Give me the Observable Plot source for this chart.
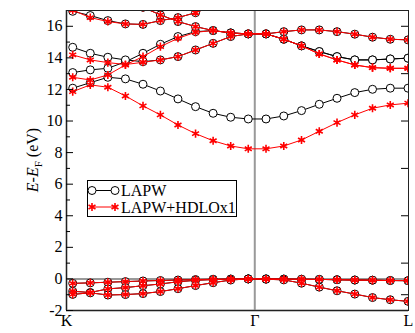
<!DOCTYPE html>
<html><head><meta charset="utf-8">
<script src="https://cdn.jsdelivr.net/npm/d3@7"></script>
<script src="https://cdn.jsdelivr.net/npm/@observablehq/plot@0.6"></script>
<style>
body{margin:0;background:#fff;}
#chart{position:relative;width:415px;height:333px;}
#legend{position:absolute;left:86px;top:179px;}
</style></head><body><div id="chart"></div>
<script>
// k-path positions (K -> Gamma -> L), distance in units of 2pi/a
const kPoints = [0.035,0.134,0.233,0.332,0.431,0.529,0.628,0.727,0.826,0.925,1.024,
                 1.124,1.224,1.324,1.424,1.524,1.624,1.724,1.824,1.924];
const kTickPos = [0, 1.0607, 1.9267];
const kTickLabels = ["K", "Γ", "L"];
const yTickLabels = [-2,0,2,4,6,8,10,12,14,16];
const yMinorTicks = [-1,1,3,5,7,9,11,13,15];
const yRightTicks = [-1,1,4,7,10,13,16];
const seriesNames = ["LAPW", "LAPW+HDLOx1"];

// valence bands (identical in both calculations)
const valence1 = [-0.28,-0.25,-0.21,-0.17,-0.13,-0.10,-0.07,-0.04,-0.02,-0.01,0.00, 0.00,-0.01,-0.02,-0.03,-0.05,-0.07,-0.08,-0.10,-0.11];
const valence2 = [-0.78,-0.86,-0.63,-0.55,-0.43,-0.32,-0.18,-0.09,-0.04,-0.01,0.00, 0.00,-0.01,-0.02,-0.03,-0.05,-0.07,-0.08,-0.10,-0.11];
const valence3 = [-0.98,-0.88,-1.02,-0.99,-0.93,-0.80,-0.62,-0.42,-0.24,-0.07,0.00, -0.02,-0.06,-0.27,-0.52,-0.75,-0.96,-1.18,-1.32,-1.42];

// LAPW conduction bands
const lapw1 = [12.08,12.43,12.77,12.67,12.33,11.90,11.40,10.91,10.49,10.24,10.13, 10.13,10.32,10.66,11.06,11.44,11.80,12.01,12.08,12.08];
const lapw2 = [13.07,13.24,13.34,13.75,14.29,14.86,15.35,15.66,15.73,15.58,15.52, 15.52,15.18,14.76,14.40,14.08,13.87,13.87,13.93,13.98];
const lapw3 = [14.67,14.29,14.04,13.87,13.76,13.87,14.08,14.50,14.92,15.35,15.52, 15.52,15.18,14.76,14.40,14.08,13.87,13.87,13.93,13.98];
const lapw4 = [16.95,16.68,16.36,16.15,16.12,16.36,16.55,16.86,17.30,null,null, null,null,null,null,null,null,null,null,null];
const lapw5 = [null,null,null,null,17.20,16.72,16.30,15.98,15.73,15.58,15.52, 15.52,15.66,15.77,15.77,15.66,15.50,15.31,15.18,15.14];

// LAPW+HDLOx1 conduction bands
const hdlo1 = [11.86,12.29,12.14,11.59,10.96,10.39,9.75,9.20,8.75,8.42,8.24, 8.24,8.42,8.80,9.35,9.90,10.39,10.81,11.02,11.13];
const hdlo2 = [12.77,12.60,12.92,13.55,14.08,14.71,15.24,15.62,15.73,15.58,15.52, 15.52,15.18,14.76,14.25,13.87,13.55,13.38,13.34,13.34];
const hdlo3 = [14.19,13.87,13.70,13.58,13.72,13.87,14.08,14.50,14.92,15.35,15.52, 15.52,15.18,14.76,14.25,13.87,13.55,13.38,13.34,13.34];
const hdlo4 = [17.02,16.55,16.30,16.15,16.12,16.36,16.55,16.86,17.30,null,null, null,null,null,null,null,null,null,null,null];
const hdlo5 = [null,null,null,null,17.20,16.72,16.30,15.98,15.73,15.58,15.52, 15.52,15.66,15.77,15.77,15.66,15.50,15.31,15.18,15.14];

const lapwBands = [valence1, valence2, valence3, lapw1, lapw2, lapw3, lapw4, lapw5];
const hdloBands = [valence1, valence2, valence3, hdlo1, hdlo2, hdlo3, hdlo4, hdlo5];

function toRows(bands, set) {
  const rows = [];
  bands.forEach((b, bi) => b.forEach((e, i) => rows.push({k: kPoints[i], E: e, band: set + bi})));
  return rows;
}
const lapwRows = toRows(lapwBands, "a");
const hdloRows = toRows(hdloBands, "b");

const W = 415, H = 333, mL = 66, mR = 7, mT = 10, mB = 23;
const innerW = W - mL - mR;
const font = "'Liberation Serif', 'Times New Roman', serif";

const svg = Plot.plot({
  width: W, height: H,
  marginLeft: mL, marginRight: mR, marginTop: mT, marginBottom: mB,
  style: {fontFamily: font, fontSize: "16px", background: "#fff", color: "#000"},
  x: {domain: [kTickPos[0], kTickPos[2]]},
  y: {domain: [-2, 17]},
  marks: [
    Plot.ruleY([0], {stroke: "#999", strokeWidth: 2}),
    Plot.ruleX([kTickPos[1]], {stroke: "#999", strokeWidth: 2}),
    Plot.ruleX([kTickPos[0]], {stroke: "#888", strokeWidth: 2}),
    Plot.ruleY([-2], {stroke: "#888", strokeWidth: 2}),
    Plot.line(lapwRows, {x: "k", y: "E", z: "band", stroke: "#000", strokeWidth: 1, clip: true}),
    Plot.dot(lapwRows.filter(d => d.E != null), {x: "k", y: "E", r: 4, stroke: "#000", fill: "#fff", strokeWidth: 1, clip: true}),
    Plot.line(hdloRows, {x: "k", y: "E", z: "band", stroke: "#ff0000", strokeWidth: 1, clip: true}),
    Plot.dot(hdloRows.filter(d => d.E != null), {x: "k", y: "E", r: 3.8, symbol: "asterisk", stroke: "#ff0000", strokeWidth: 1.6, clip: true}),
    Plot.frame({stroke: "#222", strokeWidth: 1}),
    Plot.tickY(yTickLabels, {y: d => d, insetRight: innerW - 7, stroke: "#000"}),
    Plot.tickY(yMinorTicks, {y: d => d, insetRight: innerW - 4, stroke: "#000"}),
    Plot.tickY(yRightTicks, {y: d => d, insetLeft: innerW - 7, stroke: "#000"}),
    Plot.axisY({ticks: yTickLabels, tickSize: 0, tickPadding: 4, label: null, tickFormat: d => String(d), fontSize: 16}),
    Plot.axisX({ticks: kTickPos, tickSize: 0, tickPadding: 4, label: null, tickFormat: d => kTickLabels[kTickPos.indexOf(d)], fontSize: 16})
  ]
});

// y-axis title with italic E and subscript F
const lab = d3.select(svg).append("text")
  .attr("transform", "translate(38,160) rotate(-90)")
  .attr("text-anchor", "middle")
  .attr("font-family", font).attr("font-size", 16).attr("fill", "#000");
lab.append("tspan").attr("font-style", "italic").text("E");
lab.append("tspan").text("-");
lab.append("tspan").attr("font-style", "italic").text("E");
lab.append("tspan").attr("font-size", 11).attr("dy", 4).text("F");
lab.append("tspan").attr("dy", -4).text(" (eV)");

const chart = document.getElementById("chart");
chart.appendChild(svg);

// legend overlay
const leg = d3.select(chart).append("svg").attr("id", "legend").attr("width", 152).attr("height", 39);
leg.append("rect").attr("x", 1.5).attr("y", 1.5).attr("width", 149).attr("height", 36).attr("fill", "#fff").attr("stroke", "#000");
const rowsY = [11.5, 28];
leg.append("line").attr("x1", 6).attr("x2", 29).attr("y1", rowsY[0]).attr("y2", rowsY[0]).attr("stroke", "#000");
[6, 29].forEach(x => leg.append("circle").attr("cx", x).attr("cy", rowsY[0]).attr("r", 4).attr("fill", "#fff").attr("stroke", "#000"));
leg.append("line").attr("x1", 6).attr("x2", 29).attr("y1", rowsY[1]).attr("y2", rowsY[1]).attr("stroke", "#ff0000");
const star = d3.symbol(d3.symbolAsterisk, 45)();
[6, 29].forEach(x => leg.append("path").attr("d", star).attr("transform", `translate(${x},${rowsY[1]})`).attr("fill", "none").attr("stroke", "#ff0000").attr("stroke-width", 1.6));
seriesNames.forEach((s, i) => leg.append("text").attr("x", 35).attr("y", rowsY[i] + 5.5)
  .attr("font-family", font).attr("font-size", 16).attr("fill", "#000").text(s));
</script></body></html>
